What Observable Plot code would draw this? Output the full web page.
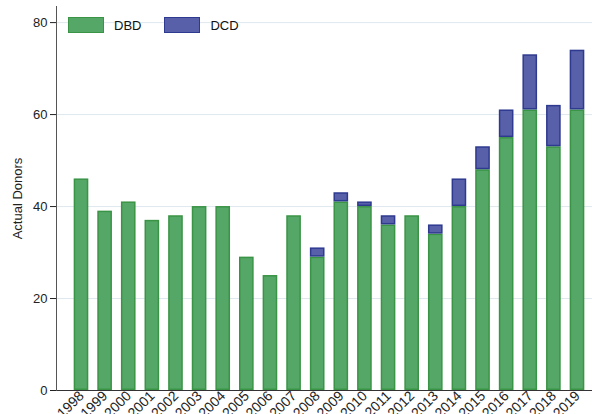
<!DOCTYPE html>
<html>
<head>
<meta charset="utf-8">
<script src="https://cdn.jsdelivr.net/npm/d3@7"></script>
<script src="https://cdn.jsdelivr.net/npm/@observablehq/plot@0.6"></script>
<style>
  html, body { margin: 0; padding: 0; background: #fff; }
  #wrap { position: relative; width: 592px; height: 414px; overflow: hidden; font-family: "Liberation Sans", Arial, sans-serif; }
  .legend { position: absolute; top: 17px; left: 68px; display: flex; align-items: center; font-size: 13px; color: #111; }
  .item { display: flex; align-items: center; margin-right: 23px; }
  .sw { width: 36px; height: 16px; margin-right: 10px; box-sizing: border-box; }
</style>
</head>
<body>
<div id="wrap">
  <div class="legend" id="legend"></div>
</div>
<script>
const years = ["1998","1999","2000","2001","2002","2003","2004","2005","2006","2007","2008","2009","2010","2011","2012","2013","2014","2015","2016","2017","2018","2019"];
const dbd = [46, 39, 41, 37, 38, 40, 40, 29, 25, 38, 29, 41, 40, 36, 38, 34, 40, 48, 55, 61, 53, 61];
const dcd = [0, 0, 0, 0, 0, 0, 0, 0, 0, 0, 2, 2, 1, 2, 0, 2, 6, 5, 6, 12, 9, 13];
const series = ["DBD", "DCD"];
const fills = ["#55a767", "#5760a8"];
const strokes = ["#3a9445", "#2e3a90"];

const rows = [];
years.forEach((y, i) => {
  rows.push({year: y, series: "DBD", value: dbd[i]});
  rows.push({year: y, series: "DCD", value: dcd[i]});
});

const chart = Plot.plot({
  width: 592,
  height: 414,
  marginLeft: 56,
  marginRight: 0,
  marginTop: 6,
  marginBottom: 24,
  style: {fontFamily: "'Liberation Sans', Arial, sans-serif", fontSize: "12px", color: "#222", background: "transparent"},
  x: {domain: years, range: [66, 592], round: false, paddingInner: 0.38, paddingOuter: 0.325, label: null},
  y: {domain: [0, 83.5], label: null},
  color: {domain: series, range: fills},
  marks: [
    Plot.gridY([20, 40, 60, 80], {stroke: "#dfe8ef", strokeOpacity: 1, strokeWidth: 1}),
    Plot.barY(rows.filter(d => d.value > 0), {
      x: "year", y: "value", fill: "series", order: series,
      stroke: d => d.series === "DBD" ? strokes[0] : strokes[1],
      strokeWidth: 1.5, insetTop: 0.75, insetBottom: 0.75, insetLeft: 0.75, insetRight: 0.75
    }),
    Plot.axisX({tickRotate: -45, tickSize: 0, tickPadding: 3, fontSize: 14, label: null}),
    Plot.axisY({ticks: [0, 20, 40, 60, 80], tickSize: 6, tickPadding: 3, fontSize: 13, label: "Actual Donors", labelAnchor: "center", labelArrow: "none", labelOffset: 44}),
    Plot.ruleY([0], {stroke: "#333"}),
    Plot.frame({anchor: "left", stroke: "#555"})
  ]
});
document.getElementById("wrap").appendChild(chart);

const leg = document.getElementById("legend");
series.forEach((s, i) => {
  const it = document.createElement("div");
  it.className = "item";
  const sw = document.createElement("div");
  sw.className = "sw";
  sw.style.background = fills[i];
  sw.style.border = "1.5px solid " + strokes[i];
  it.appendChild(sw);
  const t = document.createElement("span");
  t.textContent = s;
  it.appendChild(t);
  leg.appendChild(it);
});
</script>
</body>
</html>
